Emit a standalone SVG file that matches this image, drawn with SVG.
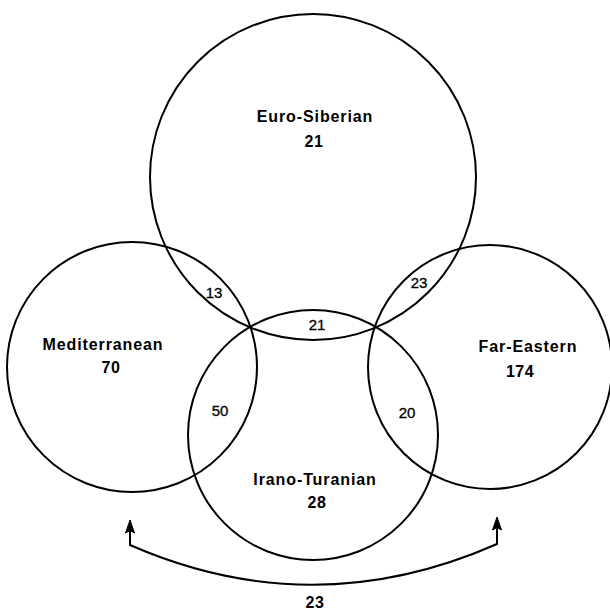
<svg xmlns="http://www.w3.org/2000/svg" width="610" height="614" viewBox="0 0 610 614">
<style>
.c{fill:none;stroke:#000;stroke-width:2}
.name{font-family:"Liberation Sans",Arial,sans-serif;font-size:16px;font-weight:bold;text-anchor:middle;letter-spacing:0.9px;fill:#000}
.num{font-family:"Liberation Sans",Arial,sans-serif;font-size:16px;font-weight:bold;text-anchor:middle;letter-spacing:0.5px;fill:#000}
.lens{font-family:"Liberation Sans",Arial,sans-serif;font-size:15px;text-anchor:middle;fill:#000;stroke:#000;stroke-width:0.3}
.ah{fill:#000;stroke:#000;stroke-width:1;stroke-linejoin:miter}
</style>
<rect width="610" height="614" fill="#fff"/>
<g id="euro-siberian">
<circle class="c" cx="313" cy="177" r="163"/>
<text class="name" x="315" y="122">Euro-Siberian</text>
<text class="num" x="314" y="147">21</text>
</g>
<g id="mediterranean">
<circle class="c" cx="132" cy="367" r="125"/>
<text class="name" x="103" y="350">Mediterranean</text>
<text class="num" x="111" y="373">70</text>
</g>
<g id="irano-turanian">
<circle class="c" cx="313" cy="435" r="125"/>
<text class="name" x="315" y="485">Irano-Turanian</text>
<text class="num" x="317" y="508">28</text>
</g>
<g id="far-eastern">
<circle class="c" cx="490" cy="367" r="122"/>
<text class="name" x="528" y="352">Far-Eastern</text>
<text class="num" x="520" y="377">174</text>
</g>
<g id="overlaps">
<text class="lens" x="214" y="298">13</text>
<text class="lens" x="419" y="288">23</text>
<text class="lens" x="317" y="330">21</text>
<text class="lens" x="220" y="416">50</text>
<text class="lens" x="407" y="418">20</text>
</g>
<g id="connectors">
<path d="M130,528 L130,545 Q313,625 497,544 L497,526" fill="none" stroke="#000" stroke-width="2"/>
<polygon class="ah" points="130,520 134.5,533 130,530.5 125.5,533"/>
<polygon class="ah" points="497,517 501.5,530 497,527.5 492.5,530"/>
<text class="num" x="315" y="608">23</text>
</g>
</svg>
